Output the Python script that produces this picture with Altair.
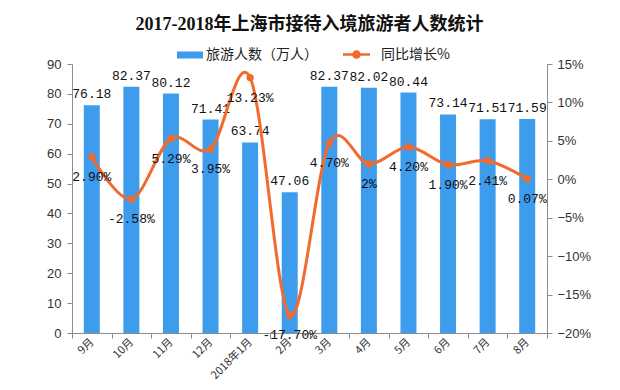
import altair as alt
import pandas as pd

months = ["9月", "10月", "11月", "12月", "2018年1月", "2月", "3月", "4月", "5月", "6月", "7月", "8月"]
visitors = [76.18, 82.37, 80.12, 71.41, 63.74, 47.06, 82.37, 82.02, 80.44, 73.14, 71.51, 71.59]
growth = [2.90, -2.58, 5.29, 3.95, 13.23, -17.70, 4.70, 2.00, 4.20, 1.90, 2.41, 0.07]
growth_labels = ["2.90%", "-2.58%", "5.29%", "3.95%", "13.23%", "-17.70%", "4.70%", "2%", "4.20%", "1.90%", "2.41%", "0.07%"]
left_ticks = [0, 10, 20, 30, 40, 50, 60, 70, 80, 90]
right_ticks = [-20, -15, -10, -5, 0, 5, 10, 15]
series_bar = "旅游人数（万人）"
series_line = "同比增长%"
title_text = "2017-2018年上海市接待入境旅游者人数统计"

BLUE = "#3E9CEC"
ORANGE = "#F26B2E"
AXIS_GRAY = "#8C8C8C"
CJK = "Noto Sans CJK SC"
NUM = "Liberation Sans"
MONO = "Liberation Mono"

df = pd.DataFrame({
    "month": months,
    "visitors": visitors,
    "growth": growth,
    "glabel": growth_labels,
    "s1": [series_bar] * len(months),
    "s2": [series_line] * len(months),
})

x_enc = alt.X(
    "month:N", sort=months, title=None,
    scale=alt.Scale(paddingInner=0, paddingOuter=0),
    axis=alt.Axis(labelAngle=-45, labelAlign="right", labelBaseline="middle", tickBand="extent",
                  domainColor=AXIS_GRAY, tickColor=AXIS_GRAY, tickSize=5, labelFont=CJK,
                  labelFontSize=11, labelColor="#333333", labelPadding=2),
)

base = alt.Chart(df).encode(x=x_enc)

y_left = alt.Y("visitors:Q", title=None, scale=alt.Scale(domain=[0, 90], nice=False),
               axis=alt.Axis(values=left_ticks, grid=False, domainColor=AXIS_GRAY, tickColor=AXIS_GRAY,
                             tickSize=5, labelFont=NUM, labelFontSize=13, labelColor="#333333",
                             labelPadding=6, labelOverlap=False))
y_right = alt.Y("growth:Q", title=None, scale=alt.Scale(domain=[-20, 15], nice=False),
                axis=alt.Axis(orient="right", values=right_ticks, grid=False, domainColor=AXIS_GRAY,
                              tickColor=AXIS_GRAY, tickSize=5, labelFont=NUM, labelFontSize=13,
                              labelColor="#333333", labelPadding=5, labelOverlap=False,
                              labelExpr="(datum.value < 0 ? '\u2212' + abs(datum.value) : datum.value) + '%'"))

bar_sym = "M-1,-0.27L1,-0.27L1,0.27L-1,0.27Z"
line_sym = ("M-1,-0.1L1,-0.1L1,0.1L-1,0.1Z "
            "M0.32,0A0.32,0.32 0 1 1 -0.32,0A0.32,0.32 0 1 1 0.32,0Z")

bars = base.mark_bar(size=16).encode(
    y=y_left,
    color=alt.Color("s1:N", scale=alt.Scale(domain=[series_bar], range=[BLUE]),
                    legend=alt.Legend(orient="none", legendX=105, legendY=-22, title=None,
                                      symbolType=bar_sym, symbolSize=676, labelOffset=3,
                                      labelFont=CJK, labelFontSize=14, labelColor="#222222",
                                      padding=0, symbolStrokeWidth=0)),
)
bar_text = base.mark_text(baseline="bottom", dy=-4, font=MONO, fontSize=13, color="#111111").encode(
    y=y_left,
    text=alt.Text("visitors:Q", format=".2f"),
)

line = base.mark_line(interpolate="cardinal", color=ORANGE, strokeWidth=3).encode(y=y_right)
pts = base.mark_circle(size=55, opacity=1).encode(
    y=y_right,
    color=alt.Color("s2:N", scale=alt.Scale(domain=[series_line], range=[ORANGE]),
                    legend=alt.Legend(orient="none", legendX=271, legendY=-23, title=None,
                                      symbolType=line_sym, symbolSize=729, labelOffset=11,
                                      labelFont=CJK, labelFontSize=14, labelColor="#222222",
                                      padding=0, symbolStrokeWidth=0, symbolOpacity=1)),
)
line_text = base.mark_text(baseline="middle", dy=20, font=MONO, fontSize=13, color="#111111").encode(
    y=y_right,
    text="glabel:N",
)

chart = alt.layer(
    alt.layer(bars, bar_text),
    alt.layer(line, pts, line_text),
).resolve_scale(y="independent", color="independent").properties(
    width=475, height=269,
    autosize=alt.AutoSizeParams(type="none"),
    padding={"left": 64, "top": 56, "right": 65, "bottom": 49},
    title=alt.Title(title_text, font="Liberation Serif, " + CJK, fontSize=18, fontWeight="bold",
                    anchor="middle", offset=7, color="#111111"),
    background="white",
).configure_view(stroke=None)

chart.save("out.html", embed_options={"renderer": "svg", "actions": False})
